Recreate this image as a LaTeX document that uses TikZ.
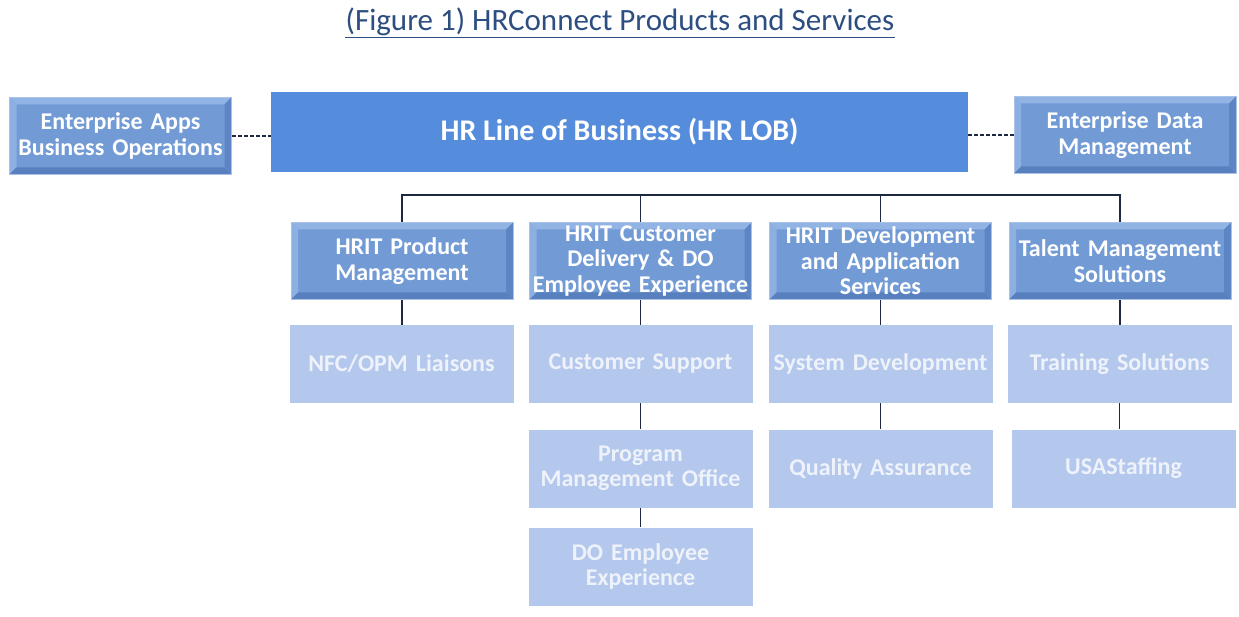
\documentclass[tikz,border=0pt]{standalone}
\usepackage{fontspec}
\setmainfont{Carlito}
\usepackage{tikz}
\usetikzlibrary{positioning}

\definecolor{lobblue}{RGB}{86,140,220}
\definecolor{bevelmid}{RGB}{114,155,214}
\definecolor{bevelrim}{RGB}{170,194,232}
\definecolor{bevellight}{RGB}{146,180,228}
\definecolor{beveldark}{RGB}{88,128,190}
\definecolor{leafblue}{RGB}{180,199,236}
\definecolor{leaftext}{RGB}{238,242,250}
\definecolor{titleblue}{RGB}{44,78,128}
\definecolor{linenavy}{RGB}{30,40,66}

\tikzset{
  bevelbox/.style={fill=bevelmid, draw=bevelrim, line width=1pt, minimum width=222pt, minimum height=77pt,
    inner sep=0pt, text width=222pt, align=center, text=white, font=\bfseries\fontsize{24}{25.5}\selectfont,
    path picture={
      \fill[bevellight] (path picture bounding box.north west) -- (path picture bounding box.north east)
        -- ([xshift=-7pt,yshift=-7pt]path picture bounding box.north east) -- ([xshift=7pt,yshift=-7pt]path picture bounding box.north west) -- cycle;
      \fill[bevellight!85!bevelmid] (path picture bounding box.north west) -- ([xshift=7pt,yshift=-7pt]path picture bounding box.north west)
        -- ([xshift=7pt,yshift=7pt]path picture bounding box.south west) -- (path picture bounding box.south west) -- cycle;
      \fill[beveldark] (path picture bounding box.south west) -- (path picture bounding box.south east)
        -- ([xshift=-7pt,yshift=7pt]path picture bounding box.south east) -- ([xshift=7pt,yshift=7pt]path picture bounding box.south west) -- cycle;
      \fill[beveldark!80!bevelmid] (path picture bounding box.north east) -- ([xshift=-7pt,yshift=-7pt]path picture bounding box.north east)
        -- ([xshift=-7pt,yshift=7pt]path picture bounding box.south east) -- (path picture bounding box.south east) -- cycle;
    }},
  leafbox/.style={fill=leafblue, minimum width=224pt, minimum height=78pt, inner sep=0pt, text width=224pt,
    align=center, text=leaftext, font=\bfseries\fontsize{24}{25.5}\selectfont},
  tie/.style={draw=linenavy, line width=1.4pt},
  sideline/.style={draw=linenavy, line width=1.3pt, dash pattern=on 3.5pt off 2.5pt}
}

\begin{document}
\begin{tikzpicture}[x=1pt,y=-1pt]
  \useasboundingbox (0,0) rectangle (1239,617);
  % title
  \node[text=titleblue, font=\fontsize{31}{34}\selectfont, inner sep=0pt] (title) at (620,22) {(Figure 1) HRConnect Products and Services};
  \draw[titleblue, line width=1.4pt] ([yshift=-7pt]title.base west) -- ([yshift=-7pt]title.base east);

  % top row
  \node[fill=lobblue, minimum width=697pt, minimum height=80pt, inner sep=0pt, text=white,
        font=\bfseries\fontsize{30}{34}\selectfont] (lob) at (619.5,132) {HR Line of Business (HR LOB)};
  \node[bevelbox] (eabo) at (120.5,136) {Enterprise Apps\\Business Operations};
  \node[bevelbox] (edm) at (1125,135) {Enterprise Data\\Management};
  \draw[sideline] (eabo.east) -- (eabo.east -| lob.west);
  \draw[sideline] (lob.east |- edm.west) -- (edm.west);

  % second row
  \node[bevelbox] (prodmgmt) at (402,261) {HRIT Product\\Management};
  \node[bevelbox] (custdel) at (640.5,261) {HRIT Customer\\Delivery \& DO\\Employee Experience};
  \node[bevelbox] (devapp) at (880.5,261) {HRIT Development\\and Application\\Services};
  \node[bevelbox] (talent) at (1120,261) {Talent Management\\Solutions};

  % leaves
  \node[leafbox] (liaisons) at (401.5,364) {NFC/OPM Liaisons};
  \node[leafbox] (support) at (640.5,364) {Customer Support};
  \node[leafbox] (sysdev) at (880.5,364) {System Development};
  \node[leafbox] (training) at (1119.5,364) {Training Solutions};
  \node[leafbox] (pmo) at (640.5,468.5) {Program\\Management Office};
  \node[leafbox] (qa) at (880.5,468.5) {Quality Assurance};
  \node[leafbox] (usas) at (1123.5,468.5) {USAStaffing};
  \node[leafbox] (doee) at (640.5,566.5) {DO Employee\\Experience};

  % ties
  \coordinate (bar) at (0,195);
  \draw[tie] (prodmgmt.north) |- (talent.north |- bar) -- (talent.north);
  \foreach \n in {custdel,devapp} {\draw[tie] (\n.north) -- (\n.north |- bar);}
  \draw[tie] (prodmgmt.south) -- (prodmgmt.south |- liaisons.north);
  \draw[tie] (custdel.south) -- (support.north);
  \draw[tie] (support.south) -- (pmo.north);
  \draw[tie] (pmo.south) -- (doee.north);
  \draw[tie] (devapp.south) -- (sysdev.north);
  \draw[tie] (sysdev.south) -- (qa.north);
  \draw[tie] (talent.south) -- (talent.south |- training.north);
  \draw[tie] (training.south) -- (training.south |- usas.north);
\end{tikzpicture}
\end{document}
